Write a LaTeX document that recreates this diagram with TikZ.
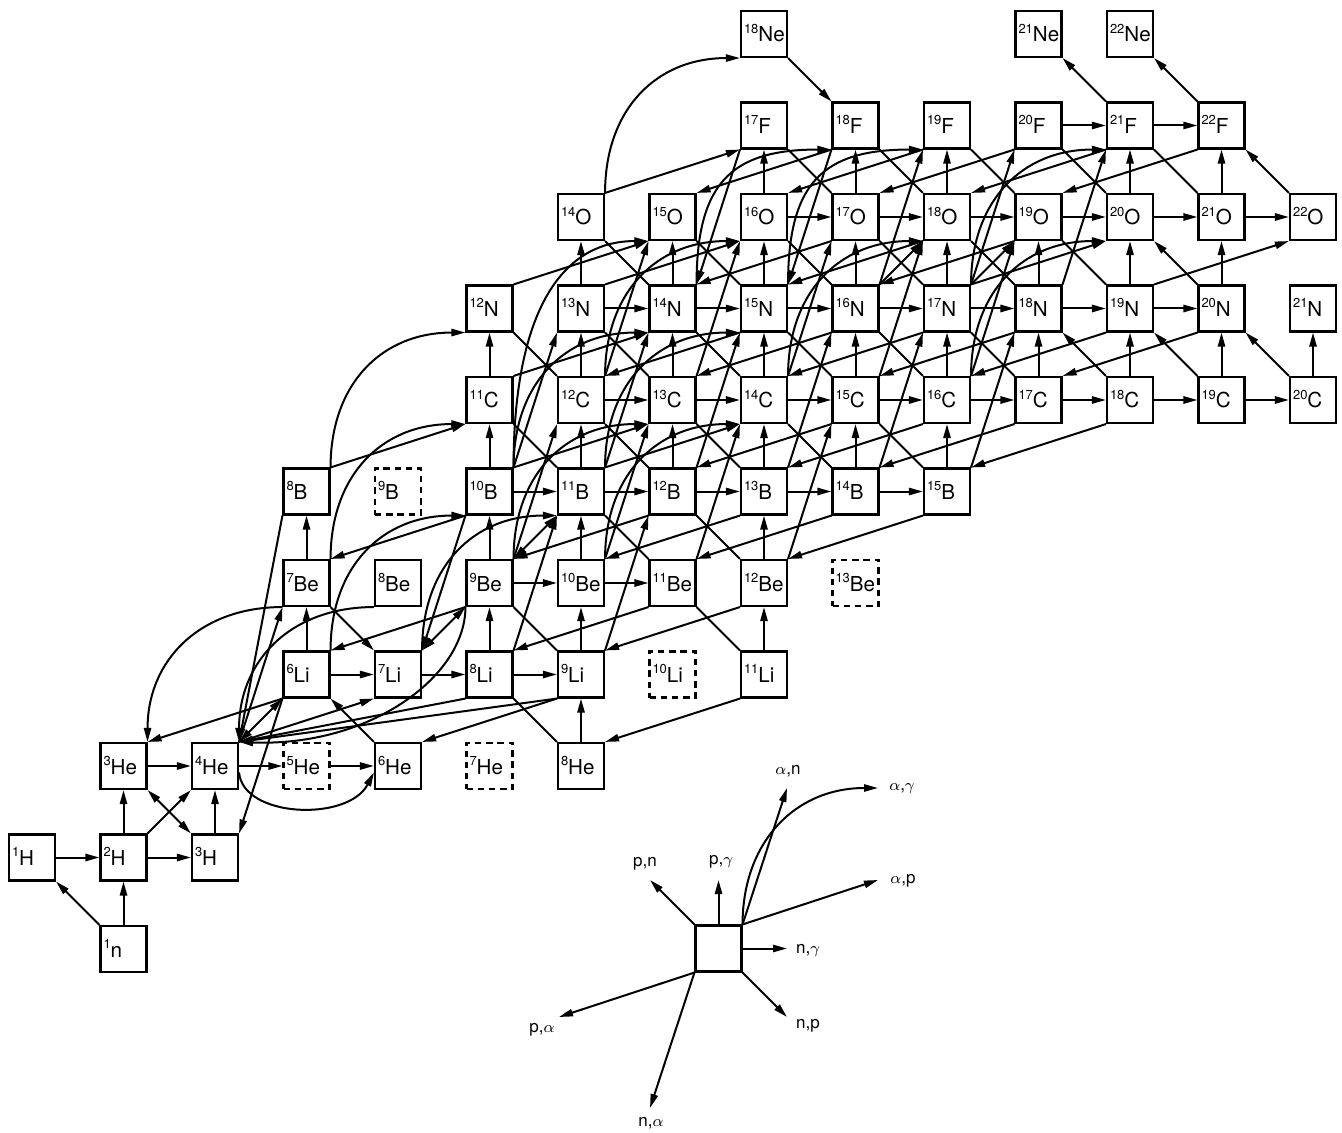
\documentclass[tikz,border=0pt]{standalone}
\usepackage{fontspec}
\setmainfont{TeX Gyre Heros}
\usetikzlibrary{arrows.meta}
\newcommand{\iso}[2]{\raisebox{4.4pt}{\fontsize{6.5}{7}\selectfont #1}#2}
\newcommand{\lbl}[1]{\makebox[20pt][l]{#1}}
\tikzset{
  nuc/.style={draw,line width=1.05pt,minimum size=23pt,inner sep=0pt,
    font=\fontsize{10.3}{12}\selectfont,text height=10pt,text depth=2pt},
  dnuc/.style={nuc,dash pattern=on 3.2pt off 2.4pt},
  ln/.style={line width=1pt},
  ar/.style={ln,->},
  ra/.style={ln,<-},
  dd/.style={ln,<->},
  lab/.style={font=\fontsize{8.5}{10}\selectfont,inner sep=0pt},
}
\begin{document}
\begin{tikzpicture}[x=0.5pt,y=0.5pt,>={Triangle[length=7pt,width=3.6pt]}]
\useasboundingbox (0,0) rectangle (1342,-1133);
% ---------------- nodes
\node[nuc] (n1) at ({32+91.5*1},-949) {\lbl{\iso{1}{n}}};
\foreach \A in {1,2,3}{\pgfmathtruncatemacro\N{\A-1}
  \node[nuc] (H\A) at ({32+91.5*\N},{91.5*1-949}) {\lbl{\iso{\A}{H}}};}
\foreach \A in {3,4,6,8}{\pgfmathtruncatemacro\N{\A-2}
  \node[nuc] (He\A) at ({32+91.5*\N},{91.5*2-949}) {\lbl{\iso{\A}{He}}};}
\foreach \A in {5,7}{\pgfmathtruncatemacro\N{\A-2}
  \node[dnuc] (He\A) at ({32+91.5*\N},{91.5*2-949}) {\lbl{\iso{\A}{He}}};}
\foreach \A in {6,7,8,9,11}{\pgfmathtruncatemacro\N{\A-3}
  \node[nuc] (Li\A) at ({32+91.5*\N},{91.5*3-949}) {\lbl{\iso{\A}{Li}}};}
\node[dnuc] (Li10) at ({32+91.5*7},{91.5*3-949}) {\lbl{\iso{10}{Li}}};
\foreach \A in {7,...,12}{\pgfmathtruncatemacro\N{\A-4}
  \node[nuc] (Be\A) at ({32+91.5*\N},{91.5*4-949}) {\lbl{\iso{\A}{Be}}};}
\node[dnuc] (Be13) at ({32+91.5*9},{91.5*4-949}) {\lbl{\iso{13}{Be}}};
\foreach \A in {8,10,11,12,13,14,15}{\pgfmathtruncatemacro\N{\A-5}
  \node[nuc] (B\A) at ({32+91.5*\N},{91.5*5-949}) {\lbl{\iso{\A}{B}}};}
\node[dnuc] (B9) at ({32+91.5*4},{91.5*5-949}) {\lbl{\iso{9}{B}}};
\foreach \A in {11,...,20}{\pgfmathtruncatemacro\N{\A-6}
  \node[nuc] (C\A) at ({32+91.5*\N},{91.5*6-949}) {\lbl{\iso{\A}{C}}};}
\foreach \A in {12,...,21}{\pgfmathtruncatemacro\N{\A-7}
  \node[nuc] (N\A) at ({32+91.5*\N},{91.5*7-949}) {\lbl{\iso{\A}{N}}};}
\foreach \A in {14,...,22}{\pgfmathtruncatemacro\N{\A-8}
  \node[nuc] (O\A) at ({32+91.5*\N},{91.5*8-949}) {\lbl{\iso{\A}{O}}};}
\foreach \A in {17,...,22}{\pgfmathtruncatemacro\N{\A-9}
  \node[nuc] (F\A) at ({32+91.5*\N},{91.5*9-949}) {\lbl{\iso{\A}{F}}};}
\foreach \A in {18,21,22}{\pgfmathtruncatemacro\N{\A-10}
  \node[nuc] (Ne\A) at ({32+91.5*\N},{91.5*10-949}) {\lbl{\iso{\A}{Ne}}};}
% ---------------- (n,gamma)
\foreach \a/\b in {H1/H2,H2/H3,He3/He4,He4/He5,He5/He6,Li6/Li7,Li7/Li8,Li8/Li9,
  Be9/Be10,Be10/Be11,B10/B11,B11/B12,B12/B13,B13/B14,B14/B15,
  C12/C13,C13/C14,C14/C15,C15/C16,C16/C17,C17/C18,C18/C19,C19/C20,
  N13/N14,N14/N15,N15/N16,N16/N17,N17/N18,N18/N19,N19/N20,
  O16/O17,O17/O18,O18/O19,O19/O20,O20/O21,O21/O22,F20/F21,F21/F22}
  \draw[ar] (\a.east) -- (\b.west);
% ---------------- (p,gamma)
\foreach \a/\b in {n1/H2,H2/He3,H3/He4,He8/Li9,Li6/Be7,Li8/Be9,Li9/Be10,Li11/Be12,
  Be7/B8,Be9/B10,Be10/B11,Be12/B13,B10/C11,B11/C12,B12/C13,B13/C14,B14/C15,B15/C16,
  C11/N12,C12/N13,C13/N14,C14/N15,C15/N16,C16/N17,C17/N18,C18/N19,C19/N20,C20/N21,
  N13/O14,N14/O15,N15/O16,N16/O17,N17/O18,N18/O19,N19/O20,N20/O21,
  O16/F17,O17/F18,O18/F19,O20/F21,O21/F22}
  \draw[ar] (\a.north) -- (\b.south);
% ---------------- (n,p) diagonals without heads
\foreach \a/\b in {Li8/He8,Be9/Li9,Be11/Li11,B11/Be11,B12/Be12,C11/B11,C12/B12,C13/B13,
  C14/B14,C15/B15,N12/C12,N13/C13,N14/C14,N15/C15,N16/C16,N17/C17,
  O14/N14,O15/N15,O16/N16,O17/N17,O18/N18,O19/N19,F17/O17,F18/O18,F19/O19,F20/O20,F21/O21}
  \draw[ln] (\a.south east) -- (\b.north west);
% diagonals with heads
\draw[ar] (n1.north west) -- (H1.south east);
\draw[ar] (He6.north west) -- (Li6.south east);
\draw[ar] (Be7.south east) -- (Li7.north west);
\draw[dd] (He3.south east) -- (H3.north west);
\foreach \a/\b in {C18/N18,C19/N19,C20/N20,N20/O20,O22/F22,F21/Ne21,F22/Ne22}
  \draw[ar] (\a.north west) -- (\b.south east);
\draw[ar] (Ne18.south east) -- (F18.north west);
% ---------------- light-element links
\draw[ar] (H2.north east) -- (He4.south west);
\draw[dd] (He4.north east) -- (Li6.south west);
\draw[ar] (Li6.south west) -- (He3.north east);
\draw[ar] (Li6.south west) -- (H3.north east);
\draw[ar] (He4.north east) -- (Li7.south west);
\draw[ar] (He4.north east) -- (Be7.south west);
\draw[ar] (B8.south west) -- (He4.north east);
\draw[ar] (Li8.south west) -- (He4.north east);
\draw[ar] (Li9.south west) -- (He4.north east);
\draw[ar] (Li9.south west) -- (He6.north east);
\draw[ar] (Li11.south west) -- (He8.north east);
\draw[ra] (He3.north east) to[out=90,in=180,looseness=1.1] (Be7.south west);
\draw[ra] (He4.north east) to[out=90,in=180,looseness=1.1] (Be8.south west);
\draw[ar] (He4.-15) .. controls (243,-818) and (348,-822) .. (He6.195);
\draw[ar] (Be9.south west) .. controls +(0,-70) and +(130,-5) .. (He4.north east);
% ---------------- (d,n)-type short diagonals
\draw[dd] (Be9.south west) -- (Li7.north east);
\draw[dd] (Be9.north east) -- (B11.south west);
\draw[ar] (N16.north east) -- (O18.south west);
\draw[ar] (N17.north east) -- (O19.south west);
% ---------------- Li, Be, B
\draw[ar] (B10.south west) -- (Be7.north east);
\draw[ar] (Be9.south west) -- (Li6.north east);
\draw[ar] (B10.south west) -- (Li7.north east);
\draw[ar] (B8.north east) -- (C11.south west);
\draw[ar] (Li8.north east) -- (B11.south west);
\draw[ar] (Li9.north east) -- (B12.south west);
% (p,alpha) and (n,alpha): arrow at the lower node
\foreach \a/\b in {Be11/Li8,Be12/Li9,B12/Be9,B13/Be10,B14/Be11,B15/Be12,
  C15/B12,C16/B13,C17/B14,C18/B15,N15/C12,N16/C13,N17/C14,N18/C15,N19/C16,N20/C17,
  O17/N14,O18/N15,O19/N16,F18/O15,F19/O16,F20/O17,F21/O18,F22/O19,F17/N14,F18/N15}
  \draw[ar] (\a.south west) -- (\b.north east);
% (alpha,p) and (alpha,n): arrow at the upper node
\foreach \a/\b in {B10/C13,B11/C14,C11/N14,N12/O15,N13/O16,N17/O20,N19/O22,O14/F17,
  Be9/C12,Be10/C13,Be11/C14,Be12/C15,B10/N13,B11/N14,B12/N15,B13/N16,B14/N17,B15/N18,
  C12/O15,C13/O16,C14/O17,C15/O18,C16/O19,N16/F19,N17/F20,N18/F21}
  \draw[ar] (\a.north east) -- (\b.south west);
% (alpha,gamma) curves
\foreach \a/\b in {Li6/B10,Li7/B11,Be7/C11,Be9/C13,Be10/C14,B8/N12,B10/N14,B11/N15,
  C12/O16,C14/O18,C16/O20,O14/Ne18,N17/F21}
  \draw[ar] (\a.north east) to[out=90,in=180,looseness=1.12] (\b.south west);
\foreach \a/\b in {N14/F18,N15/F19}
  \draw[ar] (\a.north east) to[out=90,in=180,looseness=1.35] (\b.south west);
\draw[ar] (B10.north east) .. controls +(0,150) and +(-90,0) .. (O15.south west);
% ---------------- legend
\node[nuc] (leg) at (718.5,-948.5) {};
\coordinate (pnE) at (650,-880);
\coordinate (pgE) at (718.5,-880);
\coordinate (anE) at (787,-788);
\coordinate (agE) at (878,-788);
\coordinate (apE) at (878,-880);
\coordinate (ngE) at (787,-948.5);
\coordinate (npE) at (787,-1017);
\coordinate (paE) at (559,-1017);
\coordinate (naE) at (650,-1108);
\draw[ar] (leg.north west) -- (pnE);
\draw[ar] (leg.north) -- (pgE);
\draw[ar] (leg.north east) -- (anE);
\draw[ar] (leg.north east) to[out=90,in=180,looseness=1.1] (agE);
\draw[ar] (leg.north east) -- (apE);
\draw[ar] (leg.east) -- (ngE);
\draw[ar] (leg.south east) -- (npE);
\draw[ar] (leg.south west) -- (paE);
\draw[ar] (leg.south west) -- (naE);
\node[lab] (tpn) at (645,-864) {p,n};
\node[lab] (tpg) at (721,-862) {p,$\gamma$};
\node[lab] (tan) at (788,-771) {$\alpha$,n};
\node[lab] (tag) at (902,-789) {$\alpha$,$\gamma$};
\node[lab] (tap) at (903,-881) {$\alpha$,p};
\node[lab] (tng) at (808,-950) {n,$\gamma$};
\node[lab] (tnp) at (808,-1026) {n,p};
\node[lab] (tpa) at (542,-1030) {p,$\alpha$};
\node[lab] (tna) at (651,-1123) {n,$\alpha$};
\end{tikzpicture}
\end{document}
